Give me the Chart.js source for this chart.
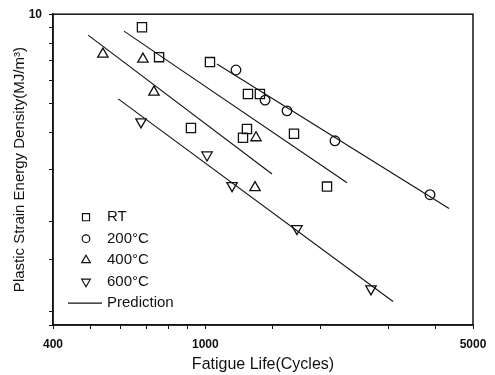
<!DOCTYPE html>
<html>
<head>
  <title>Plastic strain energy vs fatigue life</title>
  <script src="https://cdn.jsdelivr.net/npm/chart.js"></script>
  <style>
    body { margin: 0; background: #fff; }
  </style>
</head>
<body>
  <canvas id="chart" width="495" height="375"></canvas>

  <script>
    // measured points (cycles, MJ/m^3)
    const rtLife = [683, 757, 1028, 1292, 1388, 917, 1284, 1254, 1704, 2078];
    const rtEnergy = [9.04, 7.17, 6.90, 5.39, 5.39, 4.14, 4.11, 3.84, 3.96, 2.63];
    const c200Life = [1202, 1432, 1634, 2180, 3861];
    const c200Energy = [6.49, 5.14, 4.73, 3.75, 2.47];
    const c400Life = [540, 687, 734, 1356, 1348];
    const c400Energy = [7.34, 7.06, 5.47, 3.84, 2.61];
    const c600Life = [679, 1010, 1174, 1735, 2707];
    const c600Energy = [4.34, 3.36, 2.65, 1.90, 1.19];

    // prediction lines (start / end)
    const predRtLife = [613, 2344];
    const predRtEnergy = [8.77, 2.71];
    const pred200Life = [1072, 4329];
    const pred200Energy = [6.80, 2.22];
    const pred400Life = [494, 1493];
    const pred400Energy = [8.50, 2.90];
    const pred600Life = [592, 3091];
    const pred600Energy = [5.19, 1.08];

    const xTickLabels = [400, 1000, 5000];
    const yTickLabels = [10];

    const FONT = 'Arial, "Liberation Sans", sans-serif';
    const INK = '#111';

    function pts(xs, ys) {
      return xs.map((x, i) => ({ x: x, y: ys[i] }));
    }

    function markerSet(label, xs, ys, style, radius, rotation) {
      return {
        label: label,
        data: pts(xs, ys),
        pointStyle: style,
        pointRadius: radius,
        pointRotation: rotation || 0,
        pointBorderWidth: 1.3,
        borderColor: INK,
        backgroundColor: 'rgba(0,0,0,0)',
        showLine: false
      };
    }

    function predLine(xs, ys) {
      return {
        label: 'Prediction',
        data: pts(xs, ys),
        showLine: true,
        borderColor: INK,
        borderWidth: 1.1,
        pointRadius: 0,
        fill: false
      };
    }

    const datasets = [
      predLine(predRtLife, predRtEnergy),
      predLine(pred200Life, pred200Energy),
      predLine(pred400Life, pred400Energy),
      predLine(pred600Life, pred600Energy),
      markerSet('RT', rtLife, rtEnergy, 'rect', 6.5),
      markerSet('200°C', c200Life, c200Energy, 'circle', 4.8),
      markerSet('400°C', c400Life, c400Energy, 'triangle', 6),
      markerSet('600°C', c600Life, c600Energy, 'triangle', 6, 180)
    ];

    // box around plot + legend inside the plot area
    const framePlugin = {
      id: 'frame',
      afterDraw(chart) {
        const { ctx, chartArea: a } = chart;
        ctx.save();
        ctx.strokeStyle = INK;
        ctx.lineWidth = 1.5;
        ctx.strokeRect(a.left, a.top, a.right - a.left, a.bottom - a.top);

        const entries = [
          { text: 'RT', style: 'rect', r: 5, rot: 0 },
          { text: '200°C', style: 'circle', r: 3.8, rot: 0 },
          { text: '400°C', style: 'triangle', r: 5, rot: 0 },
          { text: '600°C', style: 'triangle', r: 5, rot: 180 },
          { text: 'Prediction', style: 'line' }
        ];
        const mx = a.left + 33;
        const tx = a.left + 54;
        ctx.font = '15px ' + FONT;
        ctx.fillStyle = INK;
        ctx.textBaseline = 'middle';
        entries.forEach((e, i) => {
          const y = a.top + 203 + i * 21.5;
          ctx.strokeStyle = INK;
          ctx.lineWidth = 1.2;
          if (e.style === 'line') {
            ctx.beginPath();
            ctx.moveTo(a.left + 15, y);
            ctx.lineTo(a.left + 49, y);
            ctx.stroke();
          } else {
            ctx.fillStyle = 'rgba(0,0,0,0)';
            Chart.helpers.drawPoint(ctx, { pointStyle: e.style, radius: e.r, rotation: e.rot, borderWidth: 1.2 }, mx, y);
          }
          ctx.fillStyle = INK;
          ctx.fillText(e.text, tx, y);
        });
        ctx.restore();
      }
    };

    new Chart(document.getElementById('chart').getContext('2d'), {
      type: 'scatter',
      data: { datasets: datasets },
      plugins: [framePlugin],
      options: {
        responsive: false,
        animation: false,
        layout: { padding: { top: 13, right: 22, left: 0, bottom: 0 } },
        plugins: {
          legend: { display: false },
          tooltip: { enabled: false }
        },
        scales: {
          x: {
            type: 'logarithmic',
            min: 400,
            max: 5000,
            afterFit(scale) { scale.height = 50; },
            border: { display: true, color: INK, width: 1.5 },
            grid: { display: true, drawOnChartArea: false, drawTicks: true, tickLength: 4, color: INK },
            ticks: {
              autoSkip: false,
              maxRotation: 0,
              padding: 8,
              color: INK,
              font: { family: FONT, size: 12, weight: 'bold' },
              callback: (v) => xTickLabels.includes(v) ? String(v) : ''
            },
            title: {
              display: true,
              text: 'Fatigue Life(Cycles)',
              color: INK,
              font: { family: FONT, size: 16 },
              padding: { top: 0, bottom: 1 }
            }
          },
          y: {
            type: 'logarithmic',
            min: 0.9,
            max: 10,
            afterFit(scale) { scale.width = 53; },
            border: { display: true, color: INK, width: 1.5 },
            grid: { display: true, drawOnChartArea: false, drawTicks: true, tickLength: 4, color: INK },
            ticks: {
              autoSkip: false,
              padding: 7,
              color: INK,
              font: { family: FONT, size: 12, weight: 'bold' },
              callback: (v) => yTickLabels.includes(v) ? String(v) : ''
            },
            title: {
              display: true,
              text: 'Plastic Strain Energy Density(MJ/m³)',
              color: INK,
              font: { family: FONT, size: 15 },
              padding: { top: 11, bottom: 0 }
            }
          }
        }
      }
    });
  </script>
</body>
</html>
